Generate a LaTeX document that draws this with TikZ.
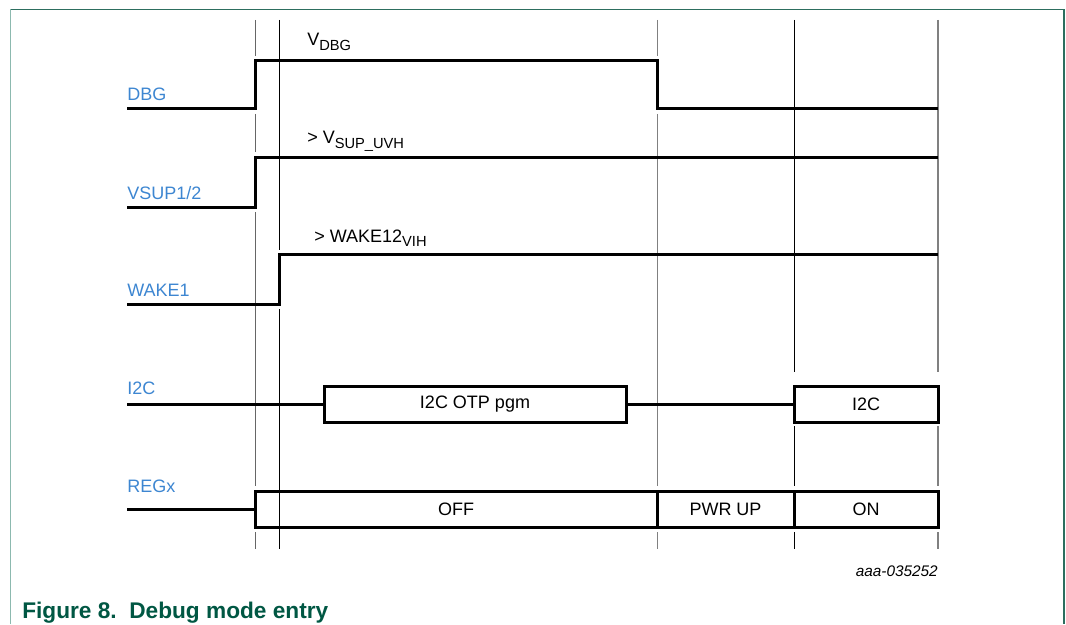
\documentclass[tikz,border=0pt]{standalone}
\usepackage{fontspec}
\setmainfont{Liberation Sans}
\usetikzlibrary{positioning}
\definecolor{sigblue}{RGB}{61,134,209}
\definecolor{capgreen}{RGB}{0,87,67}
\definecolor{framedark}{RGB}{45,110,95}
\definecolor{framelight}{RGB}{140,185,175}
\newcommand\subtxt[1]{\raisebox{-3.5pt}{\fontsize{11}{13}\selectfont #1}}
\begin{document}
\begin{tikzpicture}[x=0.75pt,y=-0.75pt,
    sig/.style={line width=2.25pt},
    guide/.style={line width=0.75pt},
    lbl/.style={anchor=base west,inner sep=0pt,text=sigblue,font=\fontsize{13.5}{16}\selectfont},
    note/.style={anchor=base west,inner sep=0pt,font=\fontsize{13.5}{16}\selectfont},
    slot/.style={draw,line width=2.25pt,outer sep=0pt,inner sep=0pt,minimum height=27pt,font=\fontsize{13.5}{16}\selectfont}]
\useasboundingbox (0,0) rectangle (1066,624);
\draw[line width=1pt,framelight] (10.5,624) -- (10.5,9.5);
\draw[line width=1pt,framedark] (10.5,9.5) -- (1064,9.5) -- (1064,624);

% time markers
\foreach \a/\b in {20/56,114/152,212/486,532/549} \draw[guide,black!60] (255,\a) -- (255,\b);
\foreach \a/\b in {20/250,309/549} \draw[guide] (279,\a) -- (279,\b);
\foreach \a/\b in {20/56,114/486,532/549} \draw[guide,black!50] (657,\a) -- (657,\b);
\foreach \a/\b in {20/372,426/486,532/549} \draw[guide] (794,\a) -- (794,\b);
\foreach \a/\b in {20/372,426/486,532/549} \draw[line width=1.1pt,black!50] (938,\a) -- (938,\b);

% signals
\node[lbl] (dbg) at (127,101) {DBG};
\node[lbl] (vsup) at (127,199) {VSUP1/2};
\node[lbl] (wake) at (127,296) {WAKE1};
\node[lbl] (i2c) at (127,394) {I2C};
\node[lbl] (regx) at (127,492) {REGx};

\draw[sig] (dbg.base west) ++(0,8) -| (255,61) -| (657,109) -- (938,109);
\draw[sig] (vsup.base west) ++(0,8) -| (255,157.5) -- (938,157.5);
\draw[sig] (wake.base west) ++(0,8) -| (279,254.5) -- (938,254.5);

\node[note] (vdbg) at (307,46) {V\subtxt{DBG}};
\node[note] (vuvh) at (307,144) {> V\subtxt{SUP\_UVH}};
\node[note] (wvih) at (314,242) {> WAKE12\subtxt{VIH}};

\node[slot,minimum width=226.5pt] (otp) at (475,404.5) {I2C OTP pgm};
\node[slot,minimum width=108pt] (i2cb) at (866,404.5) {I2C};
\draw[sig] (i2c.base west) ++(0,10.5) -- (otp.west);
\draw[sig] (otp.east) -- (i2cb.west);

\node[slot,minimum width=301.5pt] (off) at (456,509) {OFF};
\node[slot,minimum width=102.75pt,right=0pt of off] (pwrup) {PWR UP};
\node[slot,minimum width=108pt,right=0pt of pwrup] (on) {ON};
\draw[sig] (regx.base west) ++(0,17) -- (off.west);

\node[anchor=base east,inner sep=0pt,font=\itshape\fontsize{11.5}{14}\selectfont] (ref) at (938,576) {aaa-035252};
\node[anchor=base west,inner sep=0pt,text=capgreen,font=\bfseries\fontsize{17}{20}\selectfont] (cap) at (22,618) {Figure 8.\ \ Debug mode entry};
\end{tikzpicture}
\end{document}
